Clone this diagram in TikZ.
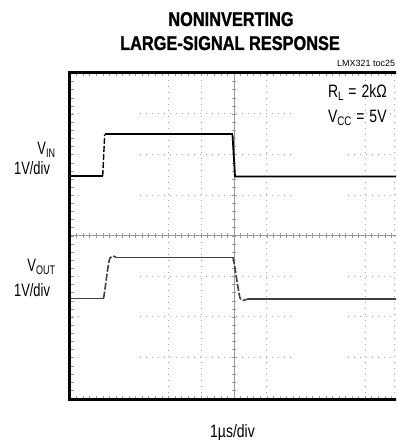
\documentclass[tikz,border=0pt]{standalone}
\usepackage{fontspec}
\setmainfont{Liberation Sans}
\newfontfamily\titlefont[FakeStretch=0.82,FakeBold=1.2]{Liberation Sans Bold}
\newfontfamily\condfont[FakeStretch=0.72]{Liberation Sans}
\newfontfamily\widefont[FakeStretch=0.78]{Liberation Sans}
\newcommand\lsub[1]{\raisebox{-2.5pt}{\fontsize{12.5}{13}\selectfont #1}}
\begin{document}
\begin{tikzpicture}[x=1bp,y=-1bp,
  lbl/.style={inner sep=0pt,outer sep=0pt,font=\condfont\fontsize{18}{20}\selectfont},
  rlbl/.style={inner sep=0pt,outer sep=0pt,font=\widefont\fontsize{18}{20}\selectfont},
  ttl/.style={inner sep=0pt,outer sep=0pt,font=\titlefont\fontsize{20}{22}\selectfont},
  dotgrid/.style={gray!70,line width=0.8bp,dash pattern=on 1bp off 5bp},
  midaxis/.style={gray!80,line width=0.7bp},
  smalltick/.style={gray!80,line width=0.6bp},
  scopeframe/.style={line width=3bp,black},
  vin/.style={black,line width=2bp},
  vout/.style={black!75,line width=1.6bp,line join=round}]
\useasboundingbox (0,0) rectangle (396,440);
\clip (0,0) rectangle (396,440);
% grid
\foreach \x in {168.4,201.2,266.8,365.2,394.5}
  \draw[dotgrid] (\x,74) -- (\x,398);
\foreach \y in {113.9,154.5,195.1,275.9,316.5,357.1}{
  \draw[dotgrid] (140,\y) -- (292,\y);
  \draw[dotgrid] (348,\y) -- (398,\y);
  \draw[dotgrid] (72,\y) -- (80,\y);}
% centre axes
\draw[midaxis] (70,235.25) -- (398,235.25);
\draw[midaxis] (234,73.5) -- (234,398);
\foreach \i in {0,...,50}{
  \draw[smalltick] ({70+\i*6.56},233) -- ({70+\i*6.56},237.5);
  \draw[smalltick] ({70+\i*6.56},74) -- ({70+\i*6.56},76.5);
  \draw[smalltick] ({70+\i*6.56},395.5) -- ({70+\i*6.56},398);}
\foreach \j in {0,...,40}{
  \draw[smalltick] (231.8,{73.5+\j*8.12}) -- (236.2,{73.5+\j*8.12});
  \draw[smalltick] (71,{73.5+\j*8.12}) -- (74,{73.5+\j*8.12});}
% frame (right side lies beyond the picture edge)
\draw[scopeframe] (402,72.5) -- (69.5,72.5) -- (69.5,399.5) -- (402,399.5);
% VIN waveform
\draw[vin] (71,176) -- (102.7,176);
\draw[black,line width=1.4bp,dash pattern=on 6bp off 2bp] (102.7,176) -- (104.7,134.5);
\draw[vin] (104.7,134.5) -- (232.5,134.5);
\draw[black,line width=1.8bp] (232.5,134.5) -- (235,176.5) -- (398,176.5);
% VOUT waveform
\draw[vout] (71,298.5) -- (103.5,298.5);
\draw[vout,dash pattern=on 7bp off 2bp] (103.5,298.5) .. controls (106,285) and (108,262) .. (110,258)
   .. controls (111.5,255.5) and (113,255.5) .. (116,257.3);
\draw[vout] (116,257.3) -- (233,257.3);
\draw[vout,dash pattern=on 7bp off 2bp] (233,257.3) .. controls (236,272) and (238,290) .. (240,298)
   .. controls (241.5,302) and (244,300) .. (248,299);
\draw[vout] (248,299) -- (398,299);
% texts
\node[ttl,anchor=base] (title1) at (231,26) {NONINVERTING};
\node[ttl,anchor=base] (title2) at (230,50) {LARGE-SIGNAL RESPONSE};
\node[inner sep=0pt,anchor=base west,font=\fontsize{9}{10}\selectfont] (toc) at (337,67) {LMX321 toc25};
\node[lbl,anchor=base east] (vin) at (55,155) {V\lsub{IN}};
\node[lbl,anchor=base east] (vinscale) at (50,175) {1V/div};
\node[lbl,anchor=base east] (vout) at (55,271.7) {V\lsub{OUT}};
\node[lbl,anchor=base east] (voutscale) at (50,296.7) {1V/div};
\node[rlbl,anchor=base west] (rl) at (328,98) {R\lsub{L}\hspace{5pt}=\hspace{5pt}2kΩ};
\node[rlbl,anchor=base west] (vcc) at (328,123) {V\lsub{CC}\hspace{5pt}=\hspace{5pt}5V};
\node[rlbl,anchor=base] (tscale) at (232.5,437) {1µs/div};
\end{tikzpicture}
\end{document}
